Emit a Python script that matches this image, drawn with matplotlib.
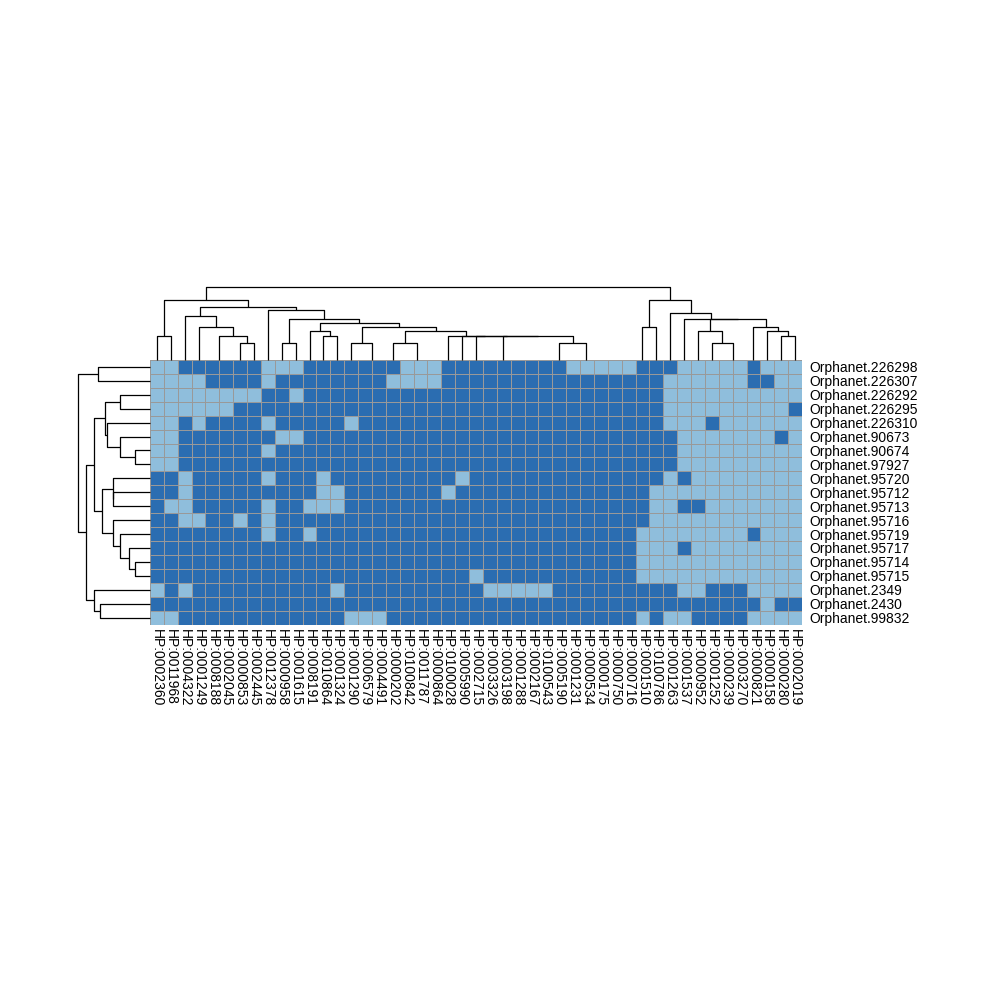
import numpy as np
import matplotlib
matplotlib.use('Agg')
from matplotlib import pyplot as plt
from matplotlib.colors import ListedColormap

plt.rcParams['font.family'] = ['Liberation Sans', 'DejaVu Sans']

# row / column labels in displayed (clustered) order
row_labels = ['Orphanet.226298', 'Orphanet.226307', 'Orphanet.226292', 'Orphanet.226295',
              'Orphanet.226310', 'Orphanet.90673', 'Orphanet.90674', 'Orphanet.97927',
              'Orphanet.95720', 'Orphanet.95712', 'Orphanet.95713', 'Orphanet.95716',
              'Orphanet.95719', 'Orphanet.95717', 'Orphanet.95714', 'Orphanet.95715',
              'Orphanet.2349', 'Orphanet.2430', 'Orphanet.99832']

col_ids = ['0002360', '0011968', '0004322', '0001249', '0008188', '0002045', '0000853',
           '0002445', '0012378', '0000958', '0001615', '0008191', '0010864', '0001324',
           '0001290', '0006579', '0004491', '0000202', '0100842', '0011787', '0000864',
           '0100028', '0005990', '0002715', '0003326', '0003198', '0001288', '0002167',
           '0100543', '0005190', '0001231', '0000534', '0000175', '0000750', '0000716',
           '0001510', '0100786', '0001263', '0001537', '0000952', '0001252', '0000239',
           '0003270', '0000821', '0000158', '0000280', '0002019']
col_labels = ['HP:' + c for c in col_ids]

# 1 = phenotype present (dark), 0 = absent (light); groups of 12 columns
presence = [
    '001111110001 111111000111 111111000001 11000001000',
    '000011110111 111110000111 111111111111 10000001100',
    '000000001101 111111111111 111111111111 10000000000',
    '000000111111 111111111111 111111111111 10000000001',
    '001011110111 110111111111 111111111111 10001000000',
    '001111111001 111111111111 111111111111 11000000010',
    '001111110111 111111111111 111111111111 11000000000',
    '001111111111 111111111111 111111111111 11000000000',
    '110111110111 011111111101 111111111111 10100000000',
    '110111111111 001111111011 111111111111 00000000000',
    '100111110110 001111111111 111111111111 00110000000',
    '110011010111 111111111111 111111111111 00000000000',
    '111111110110 111111111111 111111111110 00000001000',
    '111111111111 111111111111 111111111110 00100000000',
    '111111111111 111111111111 111111111110 00000000000',
    '111111111111 111111111110 111111111110 00000000000',
    '010111111111 101111111111 000001111111 11001110000',
    '111111111111 111111111111 111111111111 11111111011',
    '001111111111 110001111111 111111111110 10011110000',
]

# cluster trees (1-based leaf numbers in display order)
r3 = ((3, 4), (5, (6, (7, 8))))
r9 = ((9, (10, 11)), (12, (13, (14, (15, 16)))))
r17 = (17, (18, 19))
row_tree = ((1, 2), ((r3, r9), r17))

g25 = (25, (26, (27, (28, 29))))
g31 = (31, (32, (33, (34, 35))))
c18 = ((18, (19, (20, 21))), (22, (23, (24, (g25, (30, g31))))))
c15 = ((15, (16, 17)), c18)
c12 = ((12, (13, 14)), c15)
c9 = (9, ((10, 11), c12))
c3 = ((3, (4, ((5, 6), (7, 8)))), c9)
c40 = ((40, (41, (42, 43))), (44, (45, (46, 47))))
c36 = ((36, 37), (38, (39, c40)))
col_tree = (((1, 2), c3), c36)

mat = np.array([[int(ch) for ch in r.replace(' ', '')] for r in presence])
n_rows, n_cols = mat.shape

light = '#8FBEDC'
dark = '#2B6DB1'


def pdist(X):
    return np.sqrt(((X[:, None, :] - X[None, :, :]) ** 2).sum(-1))


def walk(tree, D, segs):
    # returns (position, height, members); complete-linkage heights from data
    if isinstance(tree, int):
        return tree - 0.5, 0.0, [tree - 1]
    lp, lh, lm = walk(tree[0], D, segs)
    rp, rh, rm = walk(tree[1], D, segs)
    h = D[np.ix_(lm, rm)].max()
    if h > 0:
        segs.append(([lp, lp, rp, rp], [lh, h, h, rh]))
    return (lp + rp) / 2, h, lm + rm


fig = plt.figure(figsize=(10, 10), dpi=100)

# heatmap
ax = fig.add_axes([0.150, 0.3755, 0.652, 0.2645])
ax.pcolormesh(mat, cmap=ListedColormap([light, dark]), vmin=0, vmax=1,
              edgecolors='#999999', linewidth=0.7)
ax.set_xlim(0, n_cols)
ax.set_ylim(n_rows, 0)
ax.set_xticks(np.arange(n_cols) + 0.5, labels=col_labels, rotation=270, fontsize=10)
ax.set_yticks(np.arange(n_rows) + 0.5, labels=row_labels, fontsize=10)
ax.yaxis.tick_right()
ax.tick_params(axis='x', length=0, pad=3)
ax.tick_params(axis='y', length=0, pad=5)
for s in ax.spines.values():
    s.set_visible(False)

# column dendrogram
segs = []
_, top_h, _ = walk(col_tree, pdist(mat.T.astype(float)), segs)
axc = fig.add_axes([0.150, 0.640, 0.652, 0.073])
for xs, ys in segs:
    axc.plot(xs, ys, color='black', lw=0.9, clip_on=False, solid_capstyle='butt')
axc.set_xlim(0, n_cols)
axc.set_ylim(0, top_h)
axc.axis('off')

# row dendrogram
segs = []
_, top_h, _ = walk(row_tree, pdist(mat.astype(float)), segs)
axr = fig.add_axes([0.0777, 0.3755, 0.0723, 0.2645])
for ys, xs in segs:
    axr.plot(xs, ys, color='black', lw=0.9, clip_on=False, solid_capstyle='butt')
axr.set_ylim(n_rows, 0)
axr.set_xlim(top_h, 0)
axr.axis('off')

plt.savefig('out.png', dpi=100)
